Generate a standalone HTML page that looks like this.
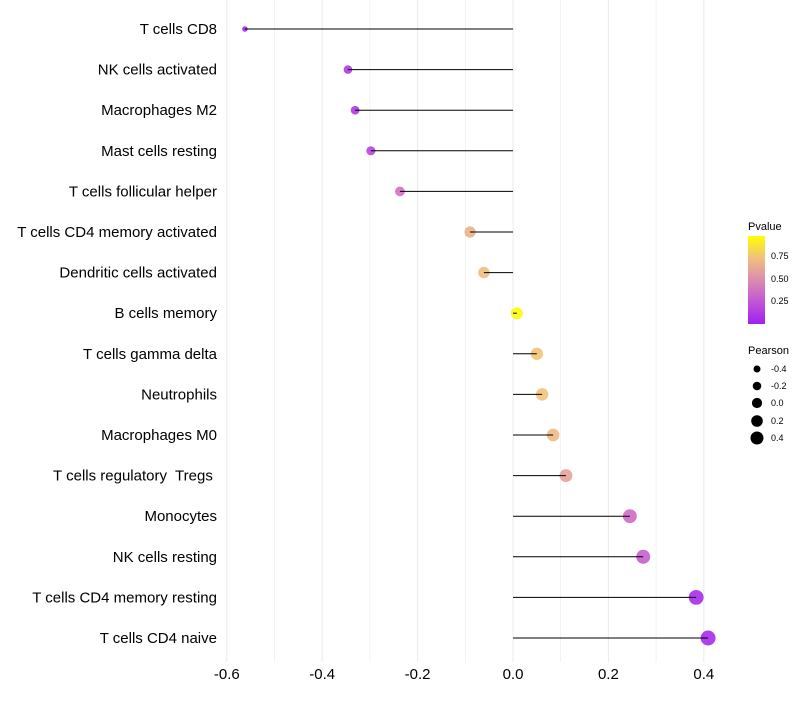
<!DOCTYPE html>
<html><head><meta charset="utf-8"><style>
body{margin:0;background:#fff;font-family:"Liberation Sans",sans-serif}
text{white-space:pre}
</style></head><body>
<svg id="chart" width="800" height="700" xmlns="http://www.w3.org/2000/svg">
<defs><linearGradient id="pg" x1="0" y1="1" x2="0" y2="0">
<stop offset="0" stop-color="#A020F0"/><stop offset="0.25" stop-color="#C254D6"/><stop offset="0.5" stop-color="#DC8CAE"/><stop offset="0.75" stop-color="#F0C07E"/><stop offset="1" stop-color="#FFFF00"/></linearGradient></defs>
<g id="grid"></g><g id="dots"></g><g id="stems"></g><g id="labels"></g>
<g font-size="10">
<text x="748" y="230" font-size="11">Pvalue</text>
<rect x="748" y="236" width="17" height="88" fill="url(#pg)"/>
<text x="771" y="259" font-size="9">0.75</text><text x="771" y="282" font-size="9">0.50</text><text x="771" y="304" font-size="9">0.25</text>
<text x="748" y="354" font-size="11">Pearson</text>
<circle cx="757" cy="369" r="3.5"/><text x="771" y="372" font-size="9">-0.4</text>
<circle cx="757" cy="386" r="4.3"/><text x="771" y="389" font-size="9">-0.2</text>
<circle cx="757" cy="403" r="5.1"/><text x="771" y="406" font-size="9">0.0</text>
<circle cx="757" cy="421" r="5.8"/><text x="771" y="424" font-size="9">0.2</text>
<circle cx="757" cy="438" r="6.5"/><text x="771" y="441" font-size="9">0.4</text>
</g>
</svg>
<script>
const categories=["T cells CD8","NK cells activated","Macrophages M2","Mast cells resting","T cells follicular helper","T cells CD4 memory activated","Dendritic cells activated","B cells memory","T cells gamma delta","Neutrophils","Macrophages M0","T cells regulatory  Tregs ","Monocytes","NK cells resting","T cells CD4 memory resting","T cells CD4 naive"];
const pearson=[-0.562,-0.346,-0.331,-0.298,-0.237,-0.090,-0.061,0.008,0.050,0.061,0.084,0.111,0.245,0.273,0.384,0.409];
const pvalues=[0.03,0.12,0.12,0.18,0.38,0.68,0.74,0.98,0.77,0.76,0.72,0.6,0.36,0.3,0.06,0.05];
const xTicks=[-0.6,-0.4,-0.2,0.0,0.2,0.4];
const NS="http://www.w3.org/2000/svg";
const x=v=>513+v*477;
const y=i=>29+i*40.6;
function col(p){const s=[[160,32,240],[194,84,214],[220,140,174],[240,192,126],[255,255,0]];const t=Math.max(0,Math.min(1,p))*4;const i=Math.min(3,Math.floor(t)),f=t-i;return "rgb("+s[i].map((c,k)=>Math.round(c+(s[i+1][k]-c)*f)).join(",")+")";}
function mk(tag,at,parent){const e=document.createElementNS(NS,tag);for(const k in at)e.setAttribute(k,at[k]);parent.appendChild(e);return e;}
const g=document.getElementById('grid'),dg=document.getElementById('dots'),sg=document.getElementById('stems'),lb=document.getElementById('labels');
for(let k=-6;k<=4;k++){const v=k/10;const ln=mk('line',{x1:x(v),x2:x(v),y1:0,y2:662,stroke:'#ebebeb','stroke-width':k%2==0?1:0.6},g);

}
xTicks.forEach(v=>{const t=mk('text',{x:x(v),y:679,'text-anchor':'middle','font-size':15,fill:'#000'},lb);t.textContent=v.toFixed(1);

});
categories.forEach((c,i)=>{const t=mk('text',{x:217,y:y(i)+5,'text-anchor':'end','font-size':15,fill:'#000'},lb);t.textContent=c;


const r=Math.sqrt(Math.max(3,35.7+49.7*pearson[i]));
const d=mk('circle',{cx:x(pearson[i]),cy:y(i),r:r,fill:col(pvalues[i]),'fill-opacity':0.9},dg);


const l=mk('line',{x1:x(0),x2:x(pearson[i]),y1:y(i),y2:y(i),stroke:'#000','stroke-width':1},sg);

});
</script>
</body></html>
